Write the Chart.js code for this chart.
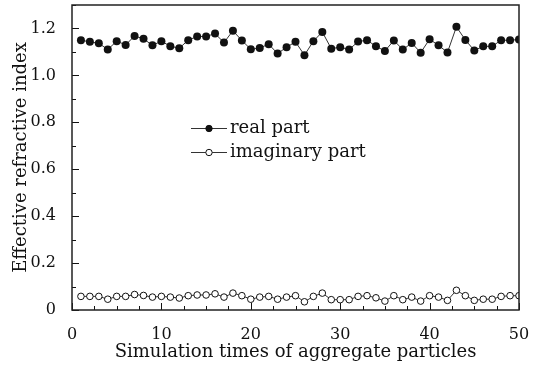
<!DOCTYPE html>
<html>
<head>
<meta charset="utf-8">
<script src="https://cdn.jsdelivr.net/npm/chart.js@4.4.1/dist/chart.umd.min.js"></script>
<style>
  html, body { margin: 0; padding: 0; background: #fff; }
  #wrap { width: 545px; height: 369px; position: relative; }
</style>
</head>
<body>
<div id="wrap"><canvas id="chart"></canvas></div>
<script>
// Simulation index (x) and effective refractive index (y)
const RUNS = [1, 2, 3, 4, 5, 6, 7, 8, 9, 10, 11, 12, 13, 14, 15, 16, 17, 18, 19, 20, 21, 22, 23, 24, 25,
              26, 27, 28, 29, 30, 31, 32, 33, 34, 35, 36, 37, 38, 39, 40, 41, 42, 43, 44, 45, 46, 47, 48, 49, 50];

const REAL_PART = [1.150, 1.143, 1.137, 1.110, 1.146, 1.130, 1.168, 1.156, 1.128, 1.146,
                   1.124, 1.116, 1.150, 1.166, 1.166, 1.178, 1.140, 1.190, 1.149, 1.111,
                   1.117, 1.133, 1.093, 1.120, 1.143, 1.086, 1.146, 1.185, 1.114, 1.120,
                   1.110, 1.144, 1.150, 1.124, 1.104, 1.149, 1.110, 1.138, 1.097, 1.154,
                   1.128, 1.098, 1.207, 1.151, 1.106, 1.124, 1.124, 1.150, 1.150, 1.153];

const IMAG_PART = [0.058, 0.058, 0.058, 0.046, 0.058, 0.058, 0.066, 0.062, 0.055, 0.058,
                   0.055, 0.051, 0.061, 0.064, 0.064, 0.069, 0.055, 0.072, 0.061, 0.046,
                   0.055, 0.058, 0.046, 0.055, 0.061, 0.035, 0.058, 0.072, 0.044, 0.044,
                   0.044, 0.058, 0.061, 0.052, 0.038, 0.061, 0.044, 0.055, 0.038, 0.061,
                   0.055, 0.041, 0.084, 0.061, 0.041, 0.046, 0.046, 0.058, 0.061, 0.061];

const X_TICKS = [0, 10, 20, 30, 40, 50];
const Y_TICKS = [0, 0.2, 0.4, 0.6, 0.8, 1.0, 1.2];
const X_MINOR_STEP = 2.5;
const Y_MINOR_STEP = 0.1;

const LEGEND_LABELS = ['real part', 'imaginary part'];

const INK = '#111';
const SERIF = '"DejaVu Serif", serif';

const toPoints = ys => RUNS.map((x, i) => ({ x: x, y: ys[i] }));

// inward tick marks + closed frame, like the original plot
const framePlugin = {
  id: 'frame',
  afterDatasetsDraw(chart) {
    const { ctx, chartArea: a, scales } = chart;
    ctx.save();
    ctx.strokeStyle = INK;
    ctx.lineWidth = 1;
    ctx.beginPath();
    const xs = scales.x, ys = scales.y;
    for (let v = xs.min; v <= xs.max + 1e-9; v += X_MINOR_STEP) {
      const px = Math.round(xs.getPixelForValue(v)) + 0.5;
      const major = X_TICKS.some(t => Math.abs(t - v) < 1e-6);
      const len = major ? 7 : 4;
      ctx.moveTo(px, a.bottom);
      ctx.lineTo(px, a.bottom - len);
    }
    for (let v = ys.min; v <= ys.max + 1e-9; v += Y_MINOR_STEP) {
      const py = Math.round(ys.getPixelForValue(v)) + 0.5;
      const major = Y_TICKS.some(t => Math.abs(t - v) < 1e-6);
      const len = major ? 7 : 4;
      ctx.moveTo(a.left, py);
      ctx.lineTo(a.left + len, py);
    }
    ctx.stroke();
    ctx.lineWidth = 1.5;
    ctx.strokeStyle = '#222';
    ctx.strokeRect(a.left, a.top, a.right - a.left, a.bottom - a.top);
    ctx.restore();
  },
  afterDraw(chart) {
    // in-plot legend:  —●— real part / —○— imaginary part
    const { ctx, chartArea: a } = chart;
    const x0 = a.left + 119;
    const rows = [a.top + 123, a.top + 147];
    ctx.save();
    ctx.font = '18px ' + SERIF;
    ctx.textBaseline = 'middle';
    ctx.fillStyle = INK;
    rows.forEach((y, i) => {
      ctx.strokeStyle = '#333';
      ctx.lineWidth = 1;
      ctx.beginPath();
      ctx.moveTo(x0, y + 0.5);
      ctx.lineTo(x0 + 36, y + 0.5);
      ctx.stroke();
      ctx.beginPath();
      ctx.arc(x0 + 18, y + 0.5, 3.2, 0, Math.PI * 2);
      ctx.fillStyle = i === 0 ? INK : '#fff';
      ctx.fill();
      ctx.strokeStyle = INK;
      ctx.stroke();
      ctx.fillStyle = INK;
      ctx.fillText(LEGEND_LABELS[i], x0 + 39, y);
    });
    ctx.restore();
  }
};

new Chart(document.getElementById('chart'), {
  type: 'line',
  data: {
    datasets: [
      {
        label: LEGEND_LABELS[0],
        data: toPoints(REAL_PART),
        borderColor: '#333',
        borderWidth: 1,
        pointRadius: 4,
        pointBackgroundColor: INK,
        pointBorderColor: INK,
        pointBorderWidth: 0,
        tension: 0,
        clip: 0,
      },
      {
        label: LEGEND_LABELS[1],
        data: toPoints(IMAG_PART),
        borderColor: '#333',
        borderWidth: 1,
        pointRadius: 3.3,
        pointBackgroundColor: '#fff',
        pointBorderColor: INK,
        pointBorderWidth: 1,
        tension: 0,
        clip: 0,
      },
    ],
  },
  options: {
    responsive: true,
    maintainAspectRatio: false,
    animation: false,
    devicePixelRatio: 1,
    layout: { padding: { top: 5, right: 26, left: 0, bottom: 0 } },
    plugins: {
      legend: { display: false },
      tooltip: { enabled: false },
    },
    scales: {
      x: {
        type: 'linear',
        min: 0,
        max: 50,
        afterBuildTicks: s => { s.ticks = X_TICKS.map(v => ({ value: v })); },
        afterFit: s => { s.height = 59; s.paddingLeft = 0; s.paddingRight = 0; },
        grid: { display: false },
        border: { display: false },
        ticks: {
          padding: 7,
          color: INK,
          font: { family: SERIF, size: 16 },
          maxRotation: 0,
          callback: v => String(v),
        },
        title: {
          display: true,
          text: 'Simulation times of aggregate particles',
          color: INK,
          font: { family: SERIF, size: 18 },
          padding: { top: 0, bottom: 6 },
        },
      },
      y: {
        min: 0,
        max: 1.3,
        afterBuildTicks: s => { s.ticks = Y_TICKS.map(v => ({ value: v })); },
        afterFit: s => { s.width = 72; s.paddingTop = 0; s.paddingBottom = 0; },
        grid: { display: false },
        border: { display: false },
        ticks: {
          padding: 8,
          color: INK,
          font: { family: SERIF, size: 16 },
          callback: v => (v === 0 ? '0' : v.toFixed(1)),
        },
        title: {
          display: true,
          text: 'Effective refractive index',
          color: INK,
          font: { family: SERIF, size: 18 },
          padding: { top: 11, bottom: 0 },
        },
      },
    },
  },
  plugins: [framePlugin],
});
</script>
</body>
</html>
